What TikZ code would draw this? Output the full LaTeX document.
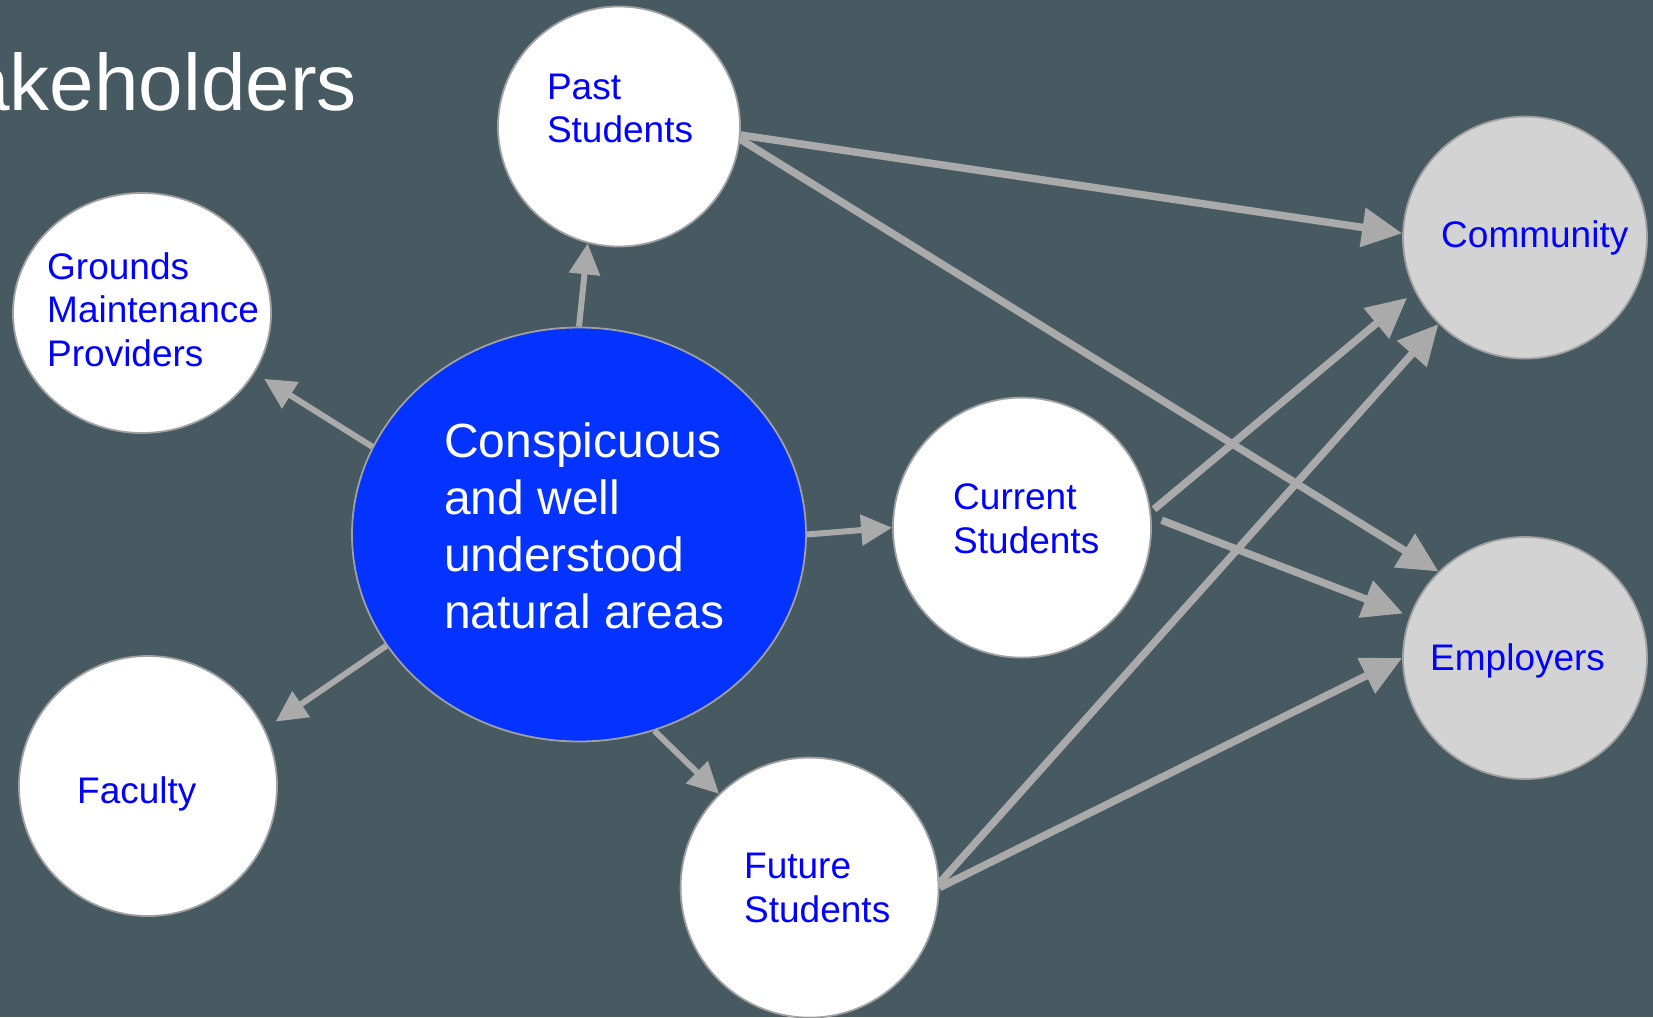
\documentclass[tikz,border=0pt]{standalone}
\usepackage{fontspec}
\setmainfont{Liberation Sans}
\usetikzlibrary{shapes.geometric,arrows.meta}
\definecolor{bg}{RGB}{71,89,97}
\definecolor{coreblue}{RGB}{4,51,255}
\definecolor{txtblue}{RGB}{0,0,255}
\definecolor{edgegray}{RGB}{160,160,160}
\definecolor{arrgray}{RGB}{170,170,170}
\definecolor{outfill}{RGB}{211,211,211}
\begin{document}
\begin{tikzpicture}[x=1pt,y=-1pt,
  bubble/.style={ellipse, draw=edgegray, line width=1.8pt, fill=white, inner sep=0pt},
  outer/.style={bubble, fill=outfill},
  lbl/.style={text=txtblue, font=\fontsize{37}{43.5}\selectfont, align=left, inner sep=0pt, anchor=base west},
  smallarrow/.style={draw=arrgray, line width=6pt, -{Triangle[length=31pt,width=30pt]}},
  bigarrow/.style={draw=arrgray, line width=7.5pt, -{Triangle[length=40pt,width=38pt]}}]
\useasboundingbox (0,0) rectangle (1653,1017);
\fill[bg] (0,0) rectangle (1653,1017);
\begin{scope}
\clip (0,0) rectangle (1653,1017);
\node[anchor=base east, text=white, inner sep=0pt, font=\fontsize{80}{96}\selectfont] (title) at (357,110) {Stakeholders};

\node[bubble, minimum width=242pt, minimum height=240pt] (past) at (619,126.5) {};
\node[bubble, minimum width=258pt, minimum height=240pt] (grounds) at (142,313) {};
\node[bubble, minimum width=258pt, minimum height=260pt] (faculty) at (148,786) {};
\node[bubble, fill=coreblue, minimum width=454pt, minimum height=414pt] (core) at (579,534.5) {};
\node[bubble, minimum width=258pt, minimum height=260pt] (current) at (1022,527.6) {};
\node[bubble, minimum width=258pt, minimum height=260pt] (future) at (809.6,887.6) {};
\node[outer, minimum width=244pt, minimum height=242pt] (community) at (1525,237.6) {};
\node[outer, minimum width=244pt, minimum height=242pt] (employers) at (1525,658) {};

\node[lbl] (pastT) at (546.8,142.7) {Past\\Students};
\node[lbl] (groundsT) at (47,366) {Grounds\\Maintenance\\Providers};
\node[lbl] (facultyT) at (77,803) {Faculty};
\node[lbl] (currentT) at (953,553) {Current\\Students};
\node[lbl] (futureT) at (744,922) {Future\\Students};
\node[lbl] (communityT) at (1441,247) {Community};
\node[lbl] (employersT) at (1430,670.5) {Employers};
\node[anchor=base west, text=white, inner sep=0pt, align=left, font=\fontsize{48}{57}\selectfont] (coreT) at (444,628) {Conspicuous\\and well\\understood\\natural areas};

\draw[smallarrow] (core.90) -- (past.255);
\draw[smallarrow, shorten >=11pt] (core.157.6) -- (grounds.-28.7);
\draw[smallarrow, shorten >=13pt] (core.210) -- (faculty.26);
\draw[smallarrow] (core.0) -- (current.180);
\draw[smallarrow] (core.291.7) -- (future.134.7);

\draw[bigarrow] (past.-4) -- (community.178);
\draw[bigarrow] (past.-6) -- (employers.135);
\draw[bigarrow, shorten <=4pt, shorten >=10pt] (current.7.5) -- (community.206);
\draw[bigarrow, shorten <=11pt, shorten >=7pt] (current.5.5) -- (employers.160);
\draw[bigarrow] (future.2) -- (community.225);
\draw[bigarrow] (future.0) -- (employers.180);
\end{scope}
\end{tikzpicture}
\end{document}
